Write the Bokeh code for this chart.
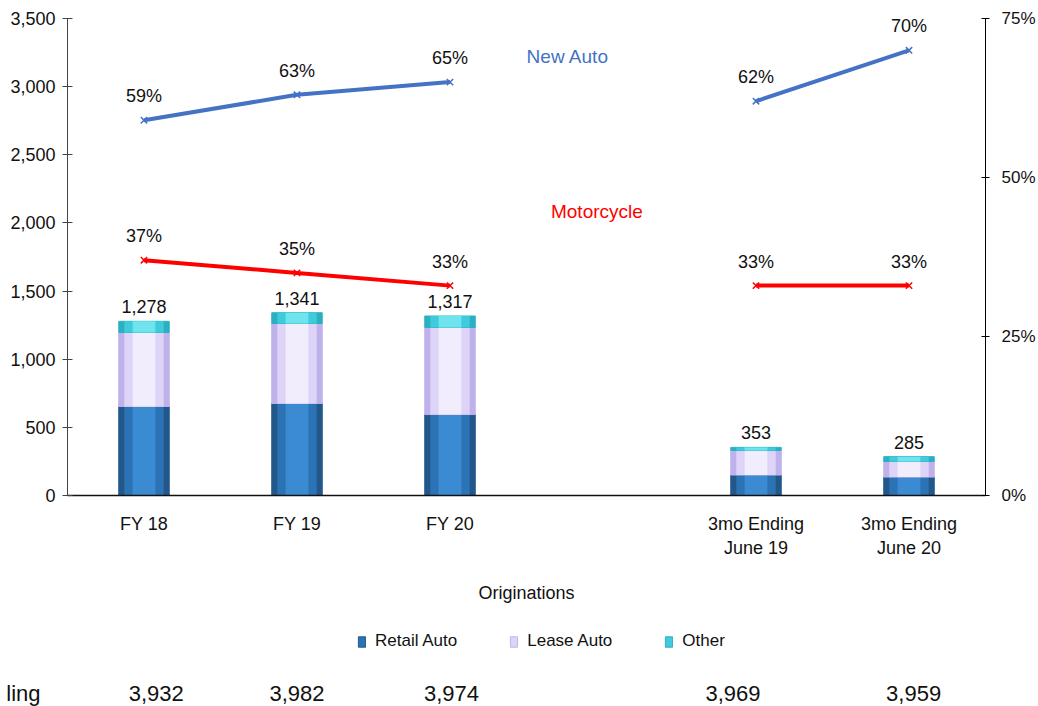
from bokeh.plotting import figure
from bokeh.layouts import column
from bokeh.models import (Range1d, LinearAxis, FixedTicker, NumeralTickFormatter,
                          ColumnDataSource, LabelSet, Label, Legend, LegendItem)
from bokeh.core.properties import value
from bokeh.embed import file_html
from bokeh.resources import INLINE

# ---------------- data ----------------
categories = ["FY 18", "FY 19", "FY 20", "3mo Ending\nJune 19", "3mo Ending\nJune 20"]
x_pos = [0, 1, 2, 4, 5]
retail_auto = [653, 675, 594, 150, 135]
lease_auto = [543, 587, 639, 180, 115]
other = [82, 79, 84, 23, 35]
totals = [1278, 1341, 1317, 353, 285]
new_auto_pct = [59, 63, 65, 62, 70]
motorcycle_pct = [37, 35, 33, 33, 33]
outstanding_label = "ling"
outstanding = ["3,932", "3,982", "3,974", "3,969", "3,959"]
y_ticks = [0, 500, 1000, 1500, 2000, 2500, 3000, 3500]
pct_ticks = [0, 25, 50, 75]

# ---------------- styles ----------------
FONT = "'Liberation Sans', Arial, sans-serif"
C_NEW = "#4472C4"
C_MOTO = "#FF0000"
TXT = "#111111"
FS = "18px"
BAR_W = 0.33
SHADES = {  # outer, middle, inner tones for a rounded look
    "retail": ("#22578a", "#2c73b5", "#3b8bd3"),
    "lease": ("#bfb2ec", "#ddd4f8", "#f2edfd"),
    "other": ("#2bb0c2", "#3fcbdc", "#6fe3ee"),
}
out_offsets = [0.08, 0.0, 0.01, -0.15, 0.03]   # table column shifts (x units)

W = 1038
H_MAIN = 610
H_ROW = 706 - H_MAIN
LEFT, RIGHT, TOP = 67, 53, 18
FRAME_H = 477
ROW_Y = 13          # row height inside the lower strip (px from bottom)
LEGEND_LOC = (290, 55)

p = figure(width=W, height=H_MAIN, x_range=Range1d(-0.5, 5.5), y_range=Range1d(0, 3500),
           output_backend="svg", toolbar_location=None,
           min_border_left=LEFT, min_border_right=RIGHT, min_border_top=TOP,
           min_border_bottom=H_MAIN - TOP - FRAME_H)
p.extra_y_ranges = {"pct": Range1d(0, 75)}
p.outline_line_color = None
p.xgrid.visible = False
p.ygrid.visible = False

# stacked bars
bottom_other = [r + l for r, l in zip(retail_auto, lease_auto)]
top_other = [b + o for b, o in zip(bottom_other, other)]
src = ColumnDataSource(dict(x=x_pos, retail=retail_auto, b_lease=retail_auto, t_lease=bottom_other,
                            b_other=bottom_other, t_other=top_other, total=totals,
                            total_label=[f"{t:,}" for t in totals]))
segments = [("retail", 0, "retail"), ("lease", "b_lease", "t_lease"), ("other", "b_other", "t_other")]
for name, bot, top in segments:
    outer, mid, inner = SHADES[name]
    p.vbar(x="x", width=BAR_W, bottom=bot, top=top, source=src,
           fill_color=outer, line_color=outer, line_width=1)
    p.vbar(x="x", width=BAR_W * 0.78, bottom=bot, top=top, source=src,
           fill_color=mid, line_color=None)
    p.vbar(x="x", width=BAR_W * 0.45, bottom=bot, top=top, source=src,
           fill_color=inner, line_color=None)

p.add_layout(LabelSet(x="x", y="total", text="total_label", source=src, text_align="center",
                      text_baseline="alphabetic", y_offset=8, text_font=value(FONT),
                      text_font_size=FS, text_color=TXT))

# lines (two groups: fiscal years and quarters)
groups = [(0, 3), (3, 5)]
for series, color in ((new_auto_pct, C_NEW), (motorcycle_pct, C_MOTO)):
    for a, b in groups:
        p.line(x=x_pos[a:b], y=series[a:b], y_range_name="pct", line_color=color, line_width=4)
    p.scatter(x=x_pos, y=series, y_range_name="pct", marker="x", size=9,
              line_color=color, line_width=1.5)
    lsrc = ColumnDataSource(dict(x=x_pos, y=series, t=[f"{v}%" for v in series]))
    p.add_layout(LabelSet(x="x", y="y", text="t", source=lsrc, y_range_name="pct",
                          text_align="center", text_baseline="alphabetic", y_offset=18,
                          text_font=value(FONT), text_font_size=FS, text_color=TXT))

p.add_layout(Label(x=2.77, y=69, y_range_name="pct", text="New Auto", text_align="center",
                   text_baseline="middle", text_font=FONT, text_font_size="19px", text_color=C_NEW))
p.add_layout(Label(x=2.96, y=44.7, y_range_name="pct", text="Motorcycle", text_align="center",
                   text_baseline="middle", text_font=FONT, text_font_size="19px", text_color=C_MOTO))

# axes
yax = p.yaxis[0]
yax.ticker = FixedTicker(ticks=y_ticks)
yax.formatter = NumeralTickFormatter(format="0,0")
yax.major_tick_in = 5
yax.major_tick_out = 5
yax.minor_tick_line_color = None
yax.major_label_standoff = 7
yax.major_label_text_font = FONT
yax.major_label_text_font_size = FS
yax.major_label_text_color = TXT
yax.axis_line_color = "#444444"
yax.major_tick_line_color = "#444444"

rax = LinearAxis(y_range_name="pct", ticker=FixedTicker(ticks=pct_ticks),
                 formatter=NumeralTickFormatter(format="0"))
rax.major_label_overrides = {t: f"{t}%" for t in pct_ticks}
rax.major_tick_in = 4
rax.major_tick_out = 4
rax.minor_tick_line_color = None
rax.major_label_standoff = 12
rax.major_label_text_font = FONT
rax.major_label_text_font_size = "17px"
rax.major_label_text_color = TXT
p.add_layout(rax, "right")

xax = p.xaxis[0]
xax.ticker = FixedTicker(ticks=x_pos)
xax.major_label_overrides = {x: c for x, c in zip(x_pos, categories)}
xax.major_tick_line_color = None
xax.major_tick_in = 0
xax.major_tick_out = 0
xax.minor_tick_line_color = None
xax.major_label_standoff = 18
xax.major_label_text_font = FONT
xax.major_label_text_font_size = FS
xax.major_label_text_color = TXT
xax.axis_line_color = "#111111"
xax.axis_line_width = 1.5
xax.axis_label = "Originations"
xax.axis_label_standoff = 22
xax.axis_label_text_font = FONT
xax.axis_label_text_font_size = FS
xax.axis_label_text_font_style = "normal"
xax.axis_label_text_color = TXT

# ---------------- lower strip: legend and table row ----------------
q = figure(width=W, height=H_ROW, x_range=p.x_range, y_range=Range1d(0, H_ROW),
           output_backend="svg", toolbar_location=None, x_axis_type=None,
           min_border_left=LEFT, min_border_right=RIGHT, min_border_top=0, min_border_bottom=0)
q.outline_line_color = None
q.xgrid.visible = False
q.ygrid.visible = False

# legend proxies: hidden renderers that only lend their style to the legend
items = []
for (name, bot, top), label in zip(segments, ["Retail Auto", "Lease Auto", "Other"]):
    outer, mid, inner = SHADES[name]
    r = q.vbar(x="x", width=BAR_W, bottom=top, top=top, source=src,
               fill_color=mid, line_color=outer, line_width=1)
    r.visible = False
    items.append(LegendItem(label=label, renderers=[r]))
legend = Legend(items=items, orientation="horizontal", location=LEGEND_LOC,
                glyph_width=9, glyph_height=13, label_standoff=9, spacing=52, padding=0, margin=0,
                border_line_color=None, background_fill_alpha=0, label_text_font=FONT,
                label_text_font_size="17px", label_text_color=TXT)
q.add_layout(legend)

rsrc = ColumnDataSource(dict(x=[x + o for x, o in zip(x_pos, out_offsets)],
                             y=[ROW_Y] * len(x_pos), t=outstanding))
q.text(x="x", y="y", text="t", source=rsrc, text_align="center", text_baseline="middle",
       text_font=value(FONT), text_font_size="22px", text_color=TXT)

qy = q.yaxis[0]
qy.ticker = FixedTicker(ticks=[ROW_Y])
qy.major_label_overrides = {ROW_Y: outstanding_label}
qy.axis_line_color = None
qy.major_tick_line_color = None
qy.major_tick_in = 0
qy.major_tick_out = 0
qy.minor_tick_line_color = None
qy.major_label_standoff = 27
qy.major_label_text_font = FONT
qy.major_label_text_font_size = "22px"
qy.major_label_text_color = TXT

layout = column(p, q, spacing=0)
open("out.html", "w").write(file_html(layout, INLINE))
